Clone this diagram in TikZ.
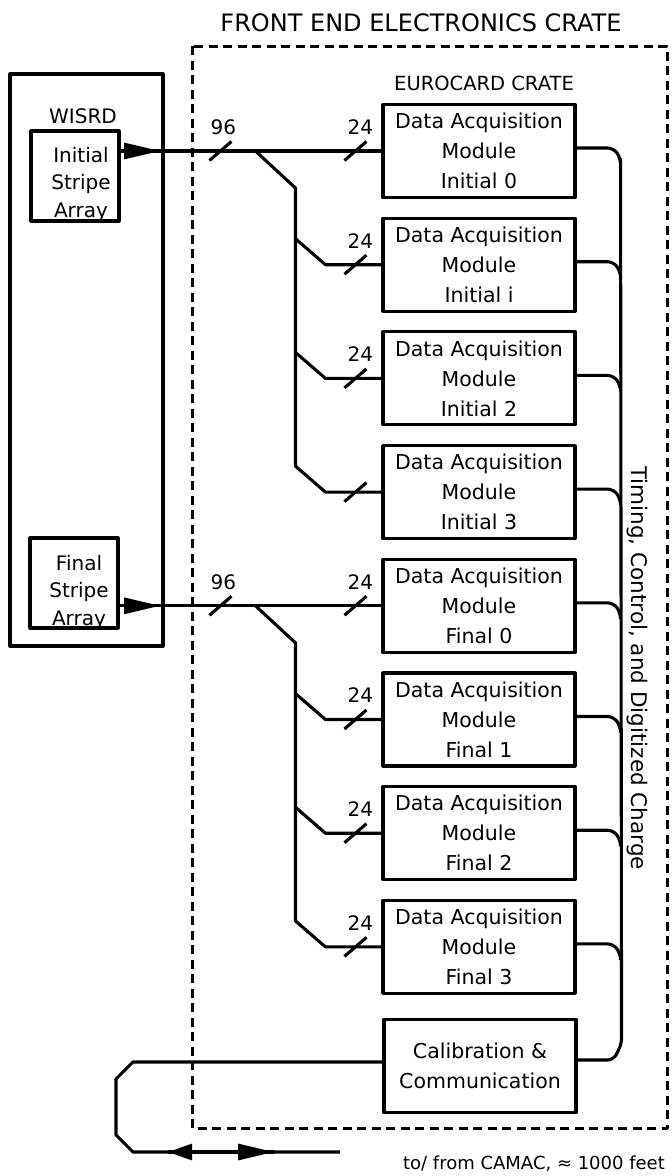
\documentclass[tikz,border=0pt]{standalone}
\usepackage{fontspec}
\setmainfont{DejaVu Sans}
\usetikzlibrary{arrows.meta,calc}
\begin{document}
\begin{tikzpicture}[x=1pt,y=-1pt,
  line width=3.1pt, line join=round,
  box/.style={draw, line width=3.1pt, rectangle, inner sep=0pt},
  daq/.style={box, minimum width=192pt, minimum height=93pt, align=center,
    font=\fontsize{20.5}{30}\selectfont},
  stripebox/.style={box, minimum width=88pt, minimum height=90pt},
  stripetxt/.style={align=center, font=\fontsize{20}{27.5}\selectfont},
  lbl/.style={font=\fontsize{20}{24}\selectfont, inner sep=0pt},
  slash/.style={line width=3.1pt},
  crate/.style={draw, dash pattern=on 9pt off 5.5pt, line width=3pt},
  bus/.style={rounded corners=6pt},
  bigtip/.style={-{Triangle[length=36pt,width=16pt]}},
  smalltip/.style={-{Triangle[length=24pt,width=16pt]}}
]
\useasboundingbox (0,0) rectangle (672,1176);

% titles
\node[font=\fontsize{24}{28}\selectfont] (title) at (421,23) {FRONT END ELECTRONICS CRATE};
\node[font=\fontsize{19.5}{24}\selectfont] (euro) at (484,83) {EUROCARD CRATE};

% crate outline
\draw[crate] (192,46) rectangle (667,1128);

% WISRD
\draw[box] (10,74) rectangle (163,646);
\node[lbl] (wisrd) at (83,116) {WISRD};
\node[stripebox, label={[stripetxt, xshift=6pt, yshift=-8pt]center:{Initial\\Stripe\\Array}}] (isa) at (75,176) {};
\node[stripebox, label={[stripetxt, xshift=5pt, yshift=-9pt]center:{Final\\Stripe\\Array}}] (fsa) at (74,583) {};

% modules
\node[daq] (m0) at (479,151)   {Data Acquisition\\Module\\Initial 0};
\node[daq] (m1) at (479,264.7) {Data Acquisition\\Module\\Initial i};
\node[daq] (m2) at (479,378.4) {Data Acquisition\\Module\\Initial 2};
\node[daq] (m3) at (479,492.1) {Data Acquisition\\Module\\Initial 3};
\node[daq] (m4) at (479,605.8) {Data Acquisition\\Module\\Final 0};
\node[daq] (m5) at (479,719.5) {Data Acquisition\\Module\\Final 1};
\node[daq] (m6) at (479,833.2) {Data Acquisition\\Module\\Final 2};
\node[daq] (m7) at (479,946.9) {Data Acquisition\\Module\\Final 3};
\node[daq] (cal) at (480,1066) {Calibration \&\\Communication};

% inputs from stripe arrays
\coordinate (tipI) at (160,151);
\coordinate (tipF) at (160,605.8);
\draw (isa.east |- m0.west) -- (m0.west);
\draw[bigtip] (isa.east |- m0.west) -- (tipI);
\draw (fsa.east |- m4.west) -- (m4.west);
\draw[bigtip] (fsa.east |- m4.west) -- (tipF);

% fan-out trunks
\draw ($(m0.west)+(-126,0)$) -- ++(40,37) -- ($(m3.west)+(-86,-26)$) -- ++(30,26) -- (m3.west);
\draw ($(m4.west)+(-126,0)$) -- ++(40,37) -- ($(m7.west)+(-86,-26)$) -- ++(30,26) -- (m7.west);
\foreach \m in {m1,m2,m5,m6}{
  \draw (\m.west) -- ++(-56,0) -- ++(-30,-26);
}

% bus-width slashes
\foreach \m in {m0,m1,m2,m3,m4,m5,m6,m7}{
  \draw[slash] ($(\m.west)+(-26,0)$) ++(-11,9.5) -- ++(22,-19);
}
\draw[slash] ($(m0.west)+(-161,0)$) ++(-11,9.5) -- ++(22,-19);
\draw[slash] ($(m4.west)+(-161,0)$) ++(-11,9.5) -- ++(22,-19);

% labels
\node[lbl] (n96a) at ($(m0.west)+(-158,-24)$) {96};
\node[lbl] (n96b) at ($(m4.west)+(-158,-24)$) {96};
\node[lbl] (n24a) at ($(m0.west)+(-21,-24)$) {24};
\node[lbl] (n24b) at ($(m1.west)+(-21,-24)$) {24};
\node[lbl] (n24c) at ($(m2.west)+(-21,-24)$) {24};
\node[lbl] (n24e) at ($(m4.west)+(-21,-24)$) {24};
\node[lbl] (n24f) at ($(m5.west)+(-21,-24)$) {24};
\node[lbl] (n24g) at ($(m6.west)+(-21,-24)$) {24};
\node[lbl] (n24h) at ($(m7.west)+(-21,-24)$) {24};

% right-hand bus
\coordinate (bustop) at ($(m0.east)+(44,7)$);
\foreach \m in {m0,m1,m2,m3,m4,m5,m6,m7}{
  \draw[bus] ($(\m.east)+(0,-3)$) -- ++(37,0) -- ++(7,10) -- ++(0,6);
}
\draw[bus] (bustop) -- ($(cal.east)+(44,-22)$) -- ($(cal.east)+(36,-6)$) -- ($(cal.east)+(0,-6)$);
\node[rotate=-90, font=\fontsize{21.5}{24}\selectfont, inner sep=0pt] (buslbl) at (637,668)
  {Timing, Control, and Digitized Charge};

% link to CAMAC
\coordinate (camac) at (340,1152);
\coordinate (la) at (168,1152);
\coordinate (ra) at (274,1152);
\draw ($(cal.west)+(0,-4)$) -- (133,1062) -- (116,1079) -- (116,1135) -- (133,1152) -- (camac);
\draw[smalltip] (ra) -- (la);
\draw[bigtip] (la) -- (ra);
\node[font=\fontsize{18}{21}\selectfont] (camactxt) at (534,1164) {to/ from CAMAC, ≈ 1000 feet};
\end{tikzpicture}
\end{document}
